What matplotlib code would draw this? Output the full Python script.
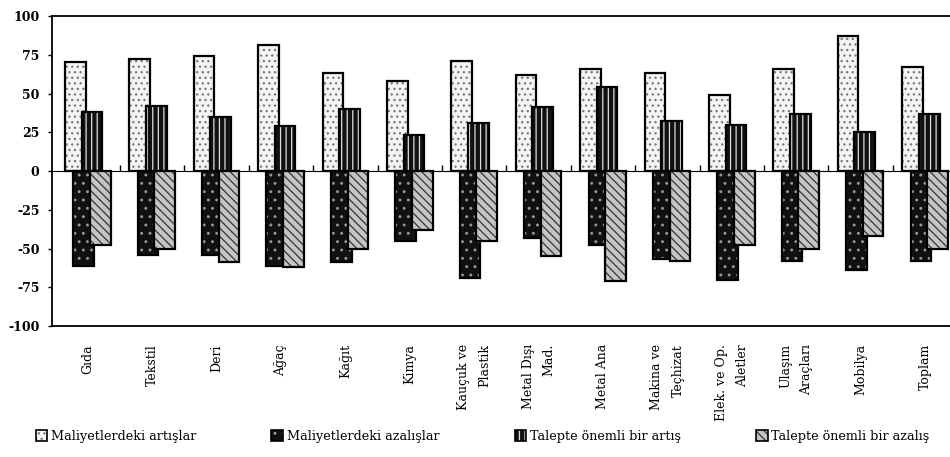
import matplotlib
matplotlib.use("Agg")
import matplotlib.pyplot as plt
import numpy as np
from matplotlib.patches import Patch

categories = ["Gıda", "Tekstil", "Deri", "Ağaç", "Kağıt", "Kimya",
              "Kauçuk ve\nPlastik", "Metal Dışı\nMad.", "Metal Ana",
              "Makina ve\nTeçhizat", "Elek. ve Op.\nAletler", "Ulaşım\nAraçları",
              "Mobilya", "Toplam"]
series_names = ["Maliyetlerdeki artışlar", "Maliyetlerdeki azalışlar",
                "Talepte önemli bir artış", "Talepte önemli bir azalış"]
maliyet_artis = [70, 72, 74, 81, 63, 58, 71, 62, 66, 63, 49, 66, 87, 67]
maliyet_azalis = [-61, -54, -54, -61, -59, -45, -69, -43, -48, -57, -70, -58, -64, -58]
talep_artis = [38, 42, 35, 29, 40, 23, 31, 41, 54, 32, 30, 37, 25, 37]
talep_azalis = [-48, -50, -59, -62, -50, -38, -45, -55, -71, -58, -48, -50, -42, -50]
yticks = [100, 75, 50, 25, 0, -25, -50, -75, -100]

plt.rcParams['font.family'] = ['DejaVu Serif']
plt.rcParams['hatch.linewidth'] = 0.9

fig = plt.figure(figsize=(9.5, 4.57), dpi=100)
ax = fig.add_axes([0.0547, 0.2866, 0.9453, 0.6784])

x = np.arange(len(categories))
width = 0.32
offsets = [-0.194, -0.065, 0.065, 0.194]
styles = [
    dict(face="#f4f4f4", hatch="...", hcol="#777777"),
    dict(face="#111111", hatch="..", hcol="#999999"),
    dict(face="#111111", hatch="|||", hcol="#dddddd"),
    dict(face="#c4c4c4", hatch="\\\\\\\\", hcol="#333333"),
]
data = [maliyet_artis, maliyet_azalis, talep_artis, talep_azalis]
handles = []
for i, (vals, st) in enumerate(zip(data, styles)):
    z = 2 + i * 0.2
    ax.bar(x + offsets[i], vals, width, color=st["face"], edgecolor=st["hcol"],
           hatch=st["hatch"], linewidth=0, zorder=z)
    ax.bar(x + offsets[i], vals, width, fill=False, edgecolor="black",
           linewidth=1.6, zorder=z + 0.1)
    hf = Patch(facecolor=st["face"], edgecolor=st["hcol"], hatch=st["hatch"], linewidth=0)
    he = Patch(fill=False, edgecolor="black", linewidth=1.2)
    handles.append((hf, he))

ax.set_xlim(-0.556, 13.388)
ax.set_ylim(-100, 100)
ax.set_yticks(yticks)
ax.set_yticklabels([str(v) for v in yticks], fontsize=9, fontweight="bold")
ax.tick_params(axis="y", length=3, width=1, pad=6)
ax.set_xticks(x)
ax.set_xticklabels(categories, rotation=90, fontsize=9, va="top", ha="center",
                   multialignment="right", linespacing=1.8)
ax.tick_params(axis="x", length=0, pad=13)
for s in ["top", "left", "bottom"]:
    ax.spines[s].set_linewidth(1.3)
ax.spines["right"].set_visible(False)

# zero line with category boundary ticks
sec = ax.secondary_xaxis(0.5)
sec.set_xticks(x[:-1] + 0.5)
sec.set_xticklabels([])
sec.tick_params(axis="x", direction="out", length=4, width=1)
sec.spines["bottom"].set_linewidth(1.2)

fig.legend(handles, series_names, loc="center", ncol=4, mode="expand",
           bbox_to_anchor=(0.032, 0.025, 0.952, 0.04), frameon=False,
           fontsize=9.2, handlelength=0.9, handleheight=0.9, handletextpad=0.3,
           borderaxespad=0)

fig.savefig("out.png", dpi=100)
